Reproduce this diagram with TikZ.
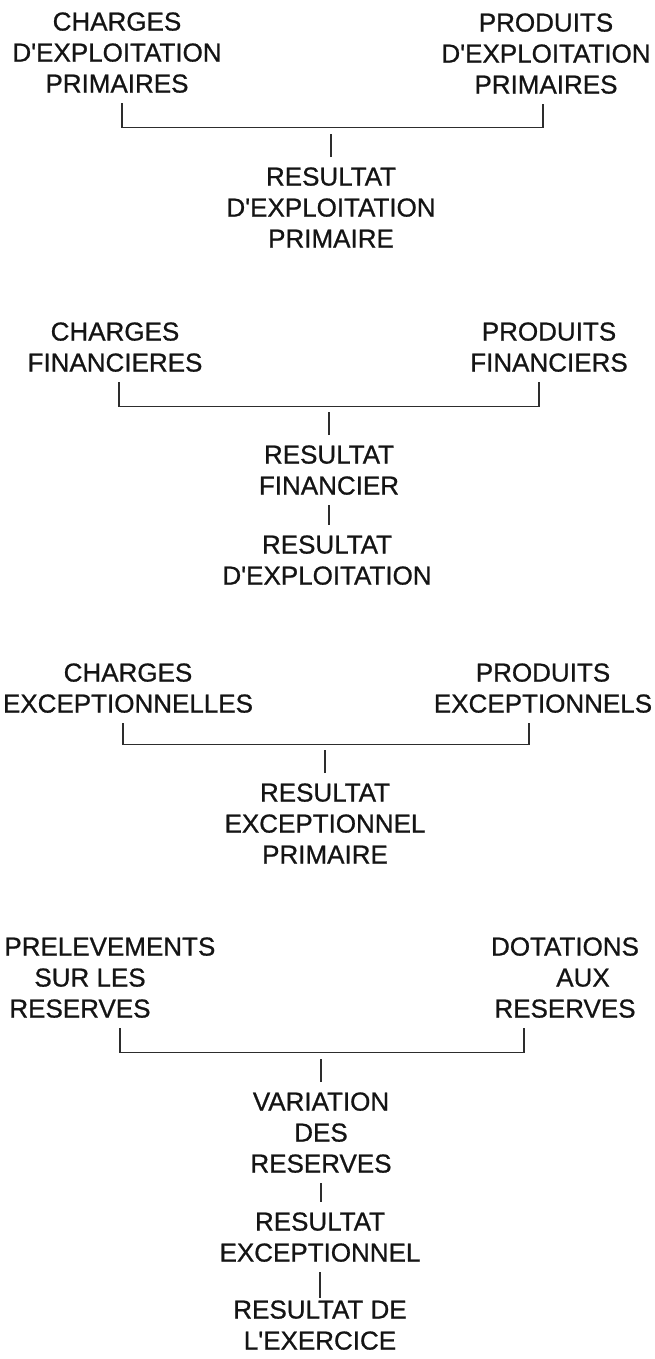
\documentclass[tikz,border=0pt]{standalone}
\usepackage{fontspec}
\setmainfont{Liberation Sans}[FakeBold=0.8,Ligatures=TeXOff]
\usepackage{tikz}
\usetikzlibrary{calc}
\definecolor{InkBlack}{RGB}{20, 20, 20}
\definecolor{RuleGrey}{RGB}{45, 45, 45}

\begin{document}
\begin{tikzpicture}[x=0.5pt, y=-0.5pt,
    poste/.style={align=center, anchor=north, inner xsep=0pt, inner ysep=5pt,
                  text=InkBlack, font=\fontsize{13}{15.5}\selectfont},
    trait/.style={RuleGrey, line width=0.7pt}]
    \useasboundingbox (0,0) rectangle (654,1359);

    % Bloc exploitation primaire
    \node[poste] (cp1) at (117,2) {CHARGES\\D'EXPLOITATION\\PRIMAIRES};
    \node[poste] (pp1) at (546,3) {PRODUITS\\D'EXPLOITATION\\PRIMAIRES};
    \node[poste] (rp1) at (331,157) {RESULTAT\\D'EXPLOITATION\\PRIMAIRE};
    \draw[trait] ([xshift=2.5pt]cp1.south) -- ++(0,24) -| ([xshift=-1.5pt]pp1.south);
    \draw[trait] (rp1.north) -- ++(0,-23);

    % Bloc financier
    \node[poste] (cp2) at (115,312) {CHARGES\\FINANCIERES};
    \node[poste] (pp2) at (549,312) {PRODUITS\\FINANCIERS};
    \node[poste] (rf2) at (329,435) {RESULTAT\\FINANCIER};
    \node[poste] (re2) at (327,525) {RESULTAT\\D'EXPLOITATION};
    \draw[trait] ([xshift=2pt]cp2.south) -- ++(0,24) -| ([xshift=-5pt]pp2.south);
    \draw[trait] (rf2.north) -- ++(0,-23);
    \draw[trait] (rf2.south) -- (rf2.south |- re2.north);

    % Bloc exceptionnel
    \node[poste] (cp3) at (128,653) {CHARGES\\EXCEPTIONNELLES};
    \node[poste] (pp3) at (543,653) {PRODUITS\\EXCEPTIONNELS};
    \node[poste] (rx3) at (325,773) {RESULTAT\\EXCEPTIONNEL\\PRIMAIRE};
    \draw[trait] ([xshift=-2.5pt]cp3.south) -- ++(0,21) -| ([xshift=-7pt]pp3.south);
    \draw[trait] (rx3.north) -- ++(0,-23);

    % Bloc reserves
    \node[poste, align=left, anchor=north west] (cp4) at (4,927)
        {PRELEVEMENTS\\\hspace*{15pt}SUR LES\\\hspace*{2.5pt}RESERVES};
    \node[poste] (pp4) at (565,927) {DOTATIONS\\\hspace*{18pt}AUX\\RESERVES};
    \node[poste] (rv4) at (321,1082) {VARIATION\\DES\\RESERVES};
    \node[poste] (rx4) at (320,1202) {RESULTAT\\EXCEPTIONNEL};
    \node[poste, inner ysep=3pt] (rf4) at (320,1294) {RESULTAT DE\\L'EXERCICE};
    \draw[trait] ([xshift=5pt]cp4.south) -- ++(0,24) -| ([xshift=-20.5pt]pp4.south);
    \draw[trait] (rv4.north) -- ++(0,-23);
    \draw[trait] (rv4.south) -- (rv4.south |- rx4.north);
    \draw[trait] (rx4.south) -- ([yshift=-2pt]rx4.south |- rf4.north);
\end{tikzpicture}
\end{document}
